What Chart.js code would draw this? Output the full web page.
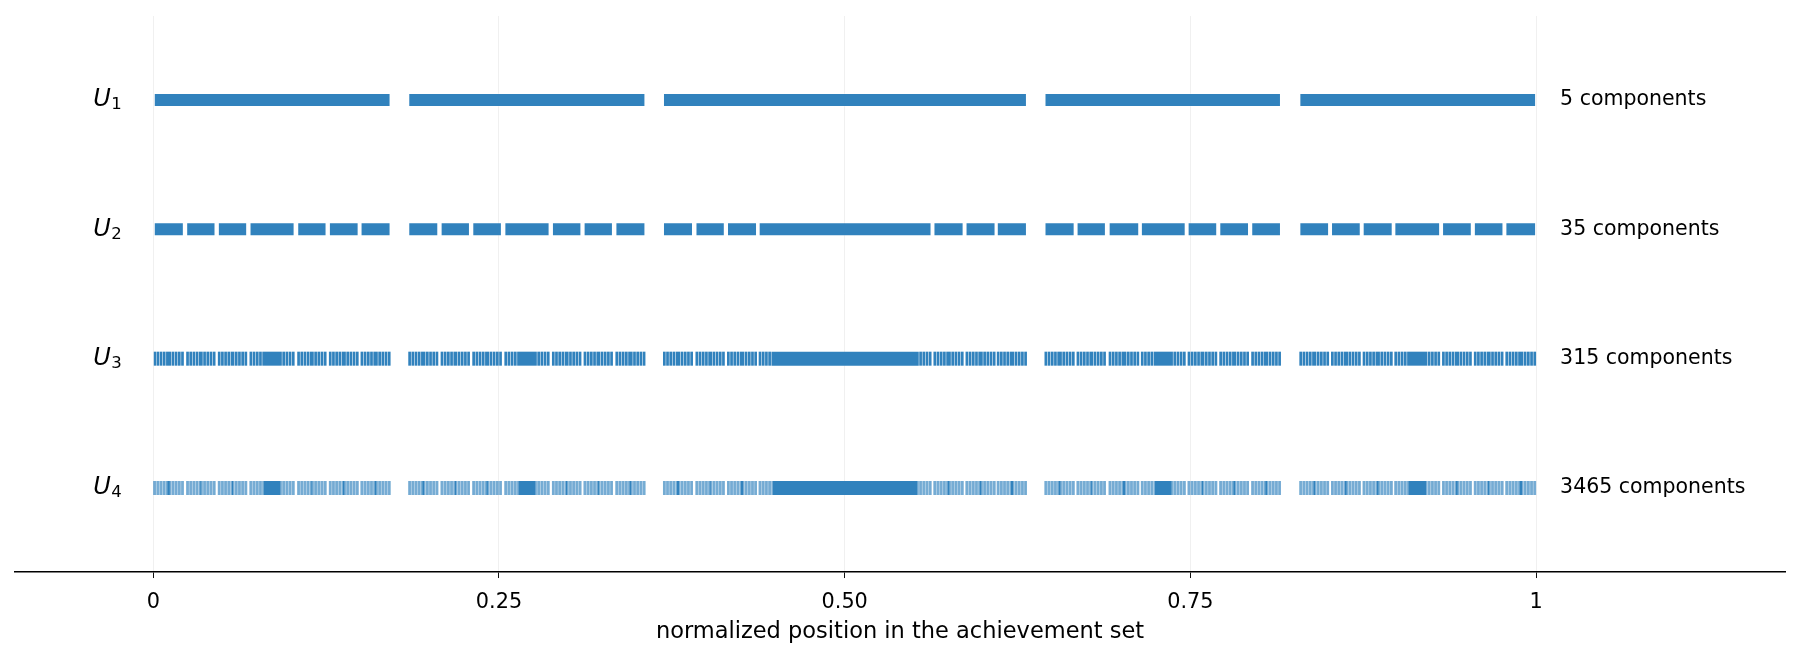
<!DOCTYPE html>
<html>
<head>
<meta charset="utf-8">
<script src="https://cdn.jsdelivr.net/npm/chart.js@4.4.1/dist/chart.umd.min.js"></script>
<style>
    html, body { margin: 0; padding: 0; background: #fff; }
    #wrap { width: 1800px; height: 656px; }
</style>
</head>
<body>
<div id="wrap"><canvas id="chart" width="1800" height="656"></canvas></div>
<script>
// rows and their right-hand labels
var rowSubscripts = ['1', '2', '3', '4'];
var componentLabels = ['5 components', '35 components', '315 components', '3465 components'];

var xTicks = [0, 0.25, 0.5, 0.75, 1];
var xTickLabels = ['0', '0.25', '0.50', '0.75', '1'];

// U1, U2
var u1 = [[0, 0.1716], [0.1844, 0.3559], [0.3686, 0.6318], [0.6445, 0.8155], [0.8288, 1]];

var u2 = [
    [0, 0.0221], [0.0238, 0.0450], [0.0467, 0.0679], [0.0696, 0.1022], [0.1041, 0.1253], [0.1270, 0.1485], [0.1499, 0.1716],
    [0.1844, 0.2061], [0.2078, 0.2290], [0.2307, 0.2521], [0.2539, 0.2866], [0.2883, 0.3096], [0.3112, 0.3324], [0.3342, 0.3559],
    [0.3686, 0.3903], [0.3921, 0.4133], [0.4149, 0.4366], [0.4378, 0.5628], [0.5642, 0.5860], [0.5874, 0.6091], [0.6100, 0.6318],
    [0.6445, 0.6663], [0.6677, 0.6889], [0.6909, 0.7130], [0.7142, 0.7466], [0.7480, 0.7694], [0.7709, 0.7924], [0.7940, 0.8155],
    [0.8288, 0.8503], [0.8517, 0.8732], [0.8746, 0.8963], [0.8975, 0.9306], [0.9320, 0.9535], [0.9550, 0.9764], [0.9778, 1]
];

// U3, U4: every component of the row above splits into equal small pieces
// on each side of one wider middle piece (sizes)
var u3Side = 4, u3Piece = 0.00195, u3Gap = 0.00036;
var u4Side = 5, u4Piece = 0.00016, u4Gap = 0.00001;

function splitRow(parent, side, piece, gap) {
    var out = [];
    parent.forEach(function (iv) {
        var a = iv[0], b = iv[1], k;
        for (k = 0; k < side; k++) out.push([a + k * (piece + gap), a + k * (piece + gap) + piece]);
        out.push([a + side * (piece + gap), b - side * (piece + gap)]);
        for (k = side - 1; k >= 0; k--) out.push([b - k * (piece + gap) - piece, b - k * (piece + gap)]);
    });
    return out;
}

var u3 = splitRow(u2, u3Side, u3Piece, u3Gap);
var u4 = splitRow(u3, u4Side, u4Piece, u4Gap);
var rows = [u1, u2, u3, u4];

var barColor = '#3182bd';

var datasets = rows.map(function (row, i) {
    return {
        data: row.map(function (iv) { return { x: iv, y: i }; }),
        backgroundColor: barColor,
        borderColor: 'rgba(255,255,255,0.3)',
        borderWidth: i < 2 ? 1 : 0,
        borderSkipped: false,
        barThickness: 14,
        inflateAmount: 0,
        grouped: false
    };
});

var rowLabelPlugin = {
    id: 'rowLabels',
    afterDraw: function (chart) {
        var ctx = chart.ctx;
        var x = chart.scales.x, y = chart.scales.y;
        var x0 = x.getPixelForValue(0);
        var x1 = x.getPixelForValue(1);
        ctx.save();
        ctx.fillStyle = '#000';
        ctx.textBaseline = 'middle';
        rows.forEach(function (row, i) {
            var py = y.getPixelForValue(i);
            // italic U with subscript on the left
            ctx.font = 'italic 24px "DejaVu Sans"';
            ctx.textAlign = 'left';
            var ux = x0 - 60;
            ctx.fillText('U', ux, py);
            var uw = ctx.measureText('U').width;
            ctx.font = '16.5px "DejaVu Sans"';
            ctx.fillText(rowSubscripts[i], ux + uw + 0.5, py + 5);
            // component count on the right
            ctx.font = '20.5px "DejaVu Sans"';
            ctx.fillText(componentLabels[i], x1 + 24, py);
        });
        ctx.restore();
    }
};

new Chart(document.getElementById('chart').getContext('2d'), {
    type: 'bar',
    data: { datasets: datasets },
    plugins: [rowLabelPlugin],
    options: {
        indexAxis: 'y',
        responsive: false,
        devicePixelRatio: 1,
        animation: false,
        events: [],
        layout: { padding: { left: 15, right: 15, top: 16, bottom: 12.5 } },
        plugins: {
            legend: { display: false },
            tooltip: { enabled: false }
        },
        scales: {
            x: {
                type: 'linear',
                min: -0.1,
                max: 1.18,
                afterBuildTicks: function (axis) {
                    axis.ticks = xTicks.map(function (v) { return { value: v }; });
                },
                ticks: {
                    color: '#000',
                    padding: 12,
                    autoSkip: false,
                    maxRotation: 0,
                    font: { family: 'DejaVu Sans', size: 20.8 },
                    callback: function (v) {
                        var i = xTicks.indexOf(v);
                        return i >= 0 ? xTickLabels[i] : '';
                    }
                },
                grid: {
                    color: 'rgba(0,0,0,0.06)',
                    lineWidth: 1,
                    tickColor: '#111',
                    tickLength: 6
                },
                border: { display: true, color: '#000', width: 1.5 },
                title: {
                    display: true,
                    text: 'normalized position in the achievement set',
                    color: '#000',
                    font: { family: 'DejaVu Sans', size: 22.5, lineHeight: 1 },
                    padding: { top: -6, bottom: 0 }
                }
            },
            y: {
                type: 'linear',
                min: -0.65,
                max: 3.65,
                reverse: true,
                offset: false,
                display: false
            }
        }
    }
});
</script>
</body>
</html>
